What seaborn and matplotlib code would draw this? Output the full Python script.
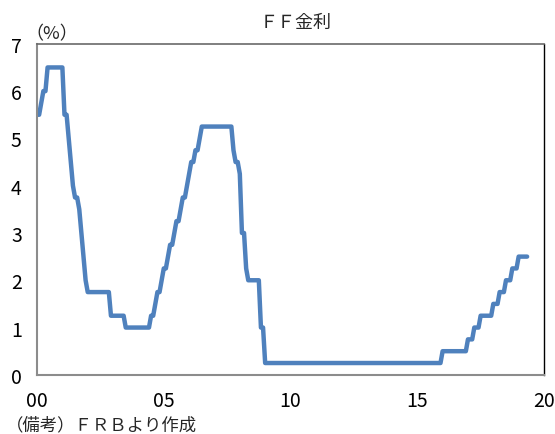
import numpy as np
import pandas as pd
import matplotlib
matplotlib.use('Agg')
import matplotlib.pyplot as plt
import seaborn as sns

sns.set_style("white")
plt.rcParams['font.family'] = ['Noto Sans CJK JP', 'DejaVu Sans']

# FF rate (target, %), monthly from Jan 2000 (rate at start of month)
rate_2000 = [5.5, 5.5, 5.75, 6.0, 6.0, 6.5, 6.5, 6.5, 6.5, 6.5, 6.5, 6.5]
rate_2001 = [6.5, 5.5, 5.5, 5.0, 4.5, 4.0, 3.75, 3.75, 3.5, 3.0, 2.5, 2.0]
rate_2002 = [1.75] * 11 + [1.25]
rate_2003 = [1.25] * 6 + [1.0] * 6
rate_2004 = [1.0] * 6 + [1.25, 1.25, 1.5, 1.75, 1.75, 2.0]
rate_2005 = [2.25, 2.25, 2.5, 2.75, 2.75, 3.0, 3.25, 3.25, 3.5, 3.75, 3.75, 4.0]
rate_2006 = [4.25, 4.5, 4.5, 4.75, 4.75, 5.0] + [5.25] * 6
rate_2007 = [5.25] * 9 + [4.75, 4.5, 4.5]
rate_2008 = [4.25, 3.0, 3.0, 2.25, 2.0, 2.0, 2.0, 2.0, 2.0, 2.0, 1.0, 1.0]
rate_2009_2015 = [0.25] * (12 * 7)
rate_2016 = [0.5] * 12
rate_2017 = [0.75, 0.75, 0.75, 1.0, 1.0, 1.0] + [1.25] * 6
rate_2018 = [1.5, 1.5, 1.5, 1.75, 1.75, 1.75, 2.0, 2.0, 2.0, 2.25, 2.25, 2.25]
rate_2019 = [2.5] * 5

rates = (rate_2000 + rate_2001 + rate_2002 + rate_2003 + rate_2004 + rate_2005
         + rate_2006 + rate_2007 + rate_2008 + rate_2009_2015 + rate_2016
         + rate_2017 + rate_2018 + rate_2019)
years = np.arange(len(rates)) / 12.0
df = pd.DataFrame({'year': years, 'rate': rates})

xticks = [0, 5, 10, 15, 20]
xtick_labels = ['00', '05', '10', '15', '20']

fig = plt.figure(figsize=(5.55, 4.35), dpi=100)
ax = fig.add_axes([0.0667, 0.136, 0.9135, 0.761])

sns.lineplot(data=df, x='year', y='rate', ax=ax, color='#4F81BD',
             linewidth=3.2, solid_capstyle='round', solid_joinstyle='round')

ax.set_xlim(0, 20)
ax.set_ylim(0, 7)
ax.set_xticks(xticks)
ax.set_xticklabels(xtick_labels)
ax.set_yticks(range(0, 8))
ax.set_xlabel('')
ax.set_ylabel('')

for side in ['left', 'bottom']:
    ax.spines[side].set_color('#8c8c8c')
    ax.spines[side].set_linewidth(1.5)
ax.spines['top'].set_color('#6a6a6a')
ax.spines['top'].set_linewidth(1.2)
ax.spines['right'].set_color('black')
ax.spines['right'].set_linewidth(1.0)

ax.tick_params(axis='y', length=4, width=1.2, color='#8c8c8c', pad=7,
               labelsize=14, labelcolor='black')
ax.tick_params(axis='x', length=0, pad=11, labelsize=14, labelcolor='black')

fig.text(0.532, 0.948, 'ＦＦ金利', ha='center', va='center', fontsize=13)
fig.text(0.045, 0.922, '（%）', ha='left', va='center', fontsize=13)
fig.text(0.01, 0.002, '（備考）ＦＲＢより作成', ha='left', va='bottom', fontsize=12.5)

fig.savefig('out.png', dpi=100)
